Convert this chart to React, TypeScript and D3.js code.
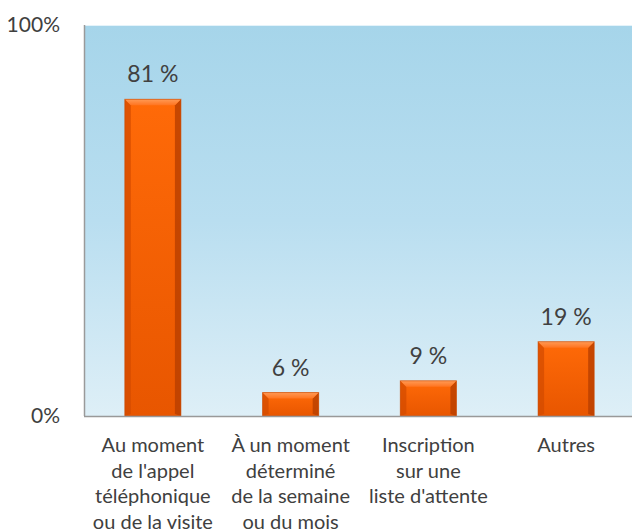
import * as d3 from "d3";

const categories = ["moment", "periode", "liste", "autres"];
const catLabels = [
  ["Au moment", "de l'appel", "téléphonique", "ou de la visite"],
  ["À un moment", "déterminé", "de la semaine", "ou du mois"],
  ["Inscription", "sur une", "liste d'attente"],
  ["Autres"],
];
const values = [81, 6, 9, 19];
const yTicks = [0, 100];

export default function App({
  width = 632,
  height = 531,
  marginTop = 25,
  marginLeft = 84,
  plotRight = 635,
  plotBottom = 416,
}) {
  const x = d3
    .scaleBand()
    .domain(categories)
    .range([marginLeft, plotRight])
    .paddingInner(0.593)
    .paddingOuter(0.2965);
  const y = d3.scaleLinear([0, 100], [plotBottom, marginTop]);
  const font = "Lato, 'Open Sans', sans-serif";
  const bev = 6;

  return (
    <svg
      width={width}
      height={height}
      style={{ position: "absolute", left: 0, top: 0 }}
      fontFamily={font}
    >
      <defs>
        <linearGradient id="bg" x1="0" y1="0" x2="0" y2="1">
          <stop offset="0" stopColor="#a6d5ea" />
          <stop offset="0.5" stopColor="#b9def0" />
          <stop offset="1" stopColor="#deeff7" />
        </linearGradient>
        <linearGradient id="face" x1="0" y1="0" x2="0" y2="1">
          <stop offset="0" stopColor="#ff6a08" />
          <stop offset="1" stopColor="#e85600" />
        </linearGradient>
        <linearGradient id="topb" x1="0" y1="0" x2="0" y2="1">
          <stop offset="0" stopColor="#ff9a55" />
          <stop offset="1" stopColor="#ff7420" />
        </linearGradient>
      </defs>

      <rect
        x={marginLeft}
        y={marginTop}
        width={plotRight - marginLeft}
        height={plotBottom - marginTop}
        fill="url(#bg)"
      />
      <line x1={marginLeft} x2={plotRight} y1={marginTop + 0.5} y2={marginTop + 0.5} stroke="#e4f3fa" />
      <line x1={marginLeft + 0.5} x2={marginLeft + 0.5} y1={marginTop} y2={plotBottom} stroke="#9a9a9a" strokeWidth={1.5} />

      {values.map((v, i) => {
        const x0 = x(categories[i])!;
        const w = x.bandwidth();
        const yt = y(v);
        const yb = y(0);
        const x1 = x0 + w;
        return (
          <g key={i}>
            <rect x={x0} y={yt} width={w} height={yb - yt} fill="url(#face)" />
            {/* left bevel */}
            <polygon
              points={`${x0},${yt} ${x0 + bev},${yt + bev} ${x0 + bev},${yb - 2} ${x0},${yb}`}
              fill="#d24a00"
              opacity={0.7}
            />
            {/* right bevel */}
            <polygon
              points={`${x1},${yt} ${x1 - bev},${yt + bev} ${x1 - bev},${yb - 2} ${x1},${yb}`}
              fill="#b83e00"
              opacity={0.8}
            />
            {/* top bevel */}
            <polygon
              points={`${x0},${yt} ${x1},${yt} ${x1 - bev},${yt + bev} ${x0 + bev},${yt + bev}`}
              fill="url(#topb)"
            />
            <rect x={x0} y={yt} width={w} height={yb - yt} fill="none" stroke="#c84800" strokeOpacity={0.6} />
            <text
              x={x0 + w / 2}
              y={yt - 17}
              textAnchor="middle"
              fontSize={23}
              fill="#404040"
            >
              {v} %
            </text>
          </g>
        );
      })}

      <line x1={marginLeft} x2={plotRight} y1={plotBottom + 0.5} y2={plotBottom + 0.5} stroke="#999" strokeWidth={1.5} />

      {yTicks.map((t) => (
        <text
          key={t}
          x={60}
          y={y(t)}
          dy="0.35em"
          textAnchor="end"
          fontSize={21}
          fill="#404040"
        >
          {t}%
        </text>
      ))}

      {catLabels.map((lines, i) => (
        <text
          key={i}
          x={x(categories[i])! + x.bandwidth() / 2}
          y={452}
          textAnchor="middle"
          fontSize={20}
          fill="#404040"
        >
          {lines.map((l, j) => (
            <tspan key={j} x={x(categories[i])! + x.bandwidth() / 2} dy={j === 0 ? 0 : 25.5}>
              {l}
            </tspan>
          ))}
        </text>
      ))}
    </svg>
  );
}
